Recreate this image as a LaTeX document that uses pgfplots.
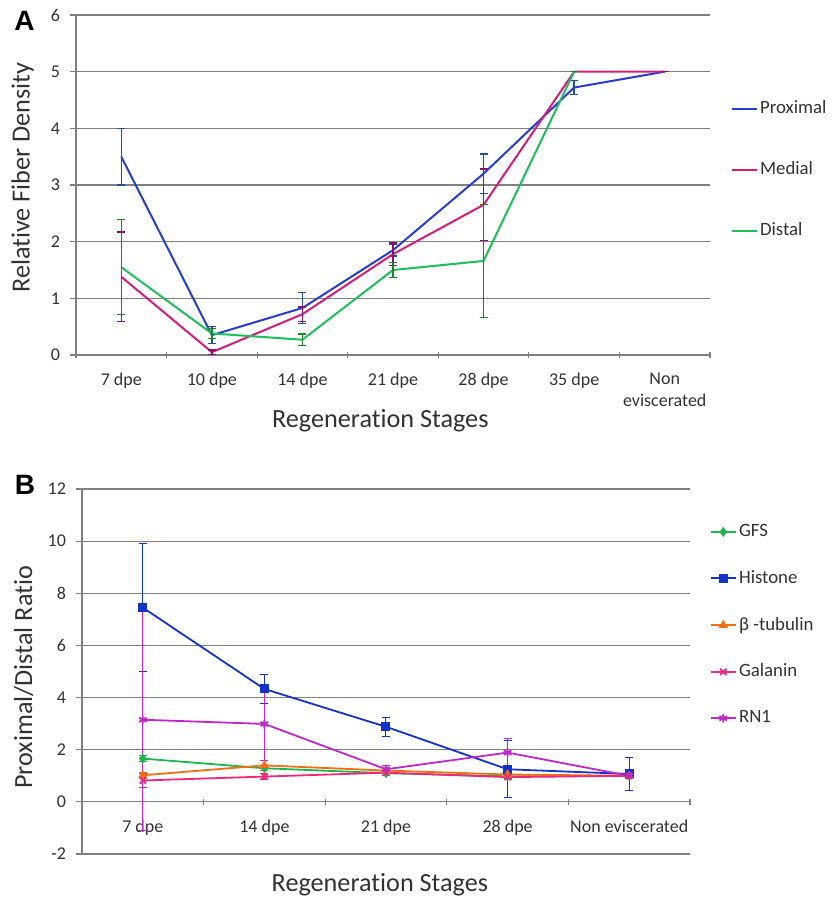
\documentclass[border=0pt]{standalone}
\usepackage{fontspec}
\setmainfont[Ligatures=NoCommon]{Carlito}
\newfontfamily\panelfont{Liberation Sans}
\usepackage{pgfplots}
\pgfplotsset{compat=1.18}

\definecolor{gridgray}{RGB}{128,128,128}
\definecolor{textgray}{RGB}{50,50,50}
% panel A
\definecolor{proxcol}{RGB}{40,60,210}
\definecolor{proxerr}{RGB}{30,80,160}
\definecolor{medcol}{RGB}{210,30,120}
\definecolor{mederr}{RGB}{130,20,120}
\definecolor{distcol}{RGB}{30,190,90}
\definecolor{disterr}{RGB}{30,130,40}
% panel B
\definecolor{gfscol}{RGB}{30,180,80}
\definecolor{histcol}{RGB}{20,50,200}
\definecolor{tubcol}{RGB}{240,110,20}
\definecolor{galcol}{RGB}{240,40,120}
\definecolor{rncol}{RGB}{190,40,200}

\newcommand\labfont{\fontsize{13.1}{15.5}\selectfont}

\pgfplotsset{
  excel/.style={
    scale only axis,
    clip=false,
    axis y line=left,
    tick align=outside,
    major tick length=3pt,
    tick style={draw=gridgray, line width=0.6pt},
    ymajorgrids,
    grid style={draw=gridgray, line width=0.6pt},
    tick label style={font=\fontsize{9}{11}\selectfont, text=textgray},
    yticklabel style={xshift=-1.5pt},
    xticklabel style={align=center, yshift=-4pt},
    /pgf/number format/assume math mode=true,
    x tick label as interval,
    legend style={draw=none, fill=none, font=\fontsize{9.4}{11}\selectfont,
      text=textgray, anchor=north west, cells={anchor=west}, inner sep=0pt,
      nodes={inner sep=1.2pt}},
    legend image code/.code={\draw[mark repeat=2,mark phase=2,##1]
      plot coordinates {(0pt,0pt) (6.25pt,0pt) (12.5pt,0pt)};},
  },
  fixlines/.style={
    axis line style={draw=gridgray, line width=0.6pt},
    x axis line style={-}, y axis line style={-},
  },
  errA/.style={error bars/.cd, y dir=both, y explicit,
    error bar style={#1, line width=0.7pt},
    error mark options={#1, rotate=90, line width=0.7pt, mark size=2pt}},
  errB/.style={error bars/.cd, y dir=both, y explicit,
    error bar style={#1, line width=0.5pt},
    error mark options={#1, rotate=90, line width=0.5pt, mark size=2pt}},
}

\begin{document}
\begin{tikzpicture}
\useasboundingbox (0,0) rectangle (417.5pt,-449.5pt);

\node[font=\panelfont\bfseries\fontsize{14}{16}\selectfont] at (12.25pt,-10.25pt) {A};
\node[font=\panelfont\bfseries\fontsize{14}{16}\selectfont] at (12.5pt,-242.5pt) {B};

\begin{axis}[excel,
  at={(38pt,-177.5pt)}, anchor=south west,
  width=317pt, height=170pt,
  axis x line=bottom,
  fixlines,
  xmin=-0.5, xmax=6.5, ymin=0, ymax=6,
  ytick={0,1,...,6},
  xtick={-0.5,0.5,...,6.5},
  xticklabels={7 dpe,10 dpe,14 dpe,21 dpe,28 dpe,35 dpe,{Non\\eviscerated}},
  ylabel={Relative Fiber Density},
  xlabel={Regeneration Stages},
  every axis y label/.style={at={(axis description cs:-0.084,0.522)}, rotate=90, anchor=center, font=\labfont, text=textgray},
  every axis x label/.style={at={(axis description cs:0.48,-0.194)}, anchor=center, font=\labfont, text=textgray},
  legend style={at={(axis description cs:1.032,0.756)}, row sep=20pt},
]
\addplot[proxcol, line width=1pt, errA=proxerr] coordinates {
  (0,3.5) +- (0,0.5)
  (1,0.35) +- (0,0.15)
  (2,0.83) +- (0,0.27)
  (3,1.85) +- (0,0.1)
  (4,3.2) +- (0,0.35)
  (5,4.72) +- (0,0.12)
  (6,5.0) +- (0,0)
};
\addlegendentry{Proximal}
\addplot[medcol, line width=1pt, errA=mederr] coordinates {
  (0,1.38) +- (0,0.79)
  (1,0.05) +- (0,0.04)
  (2,0.72) +- (0,0.13)
  (3,1.78) +- (0,0.2)
  (4,2.65) +- (0,0.63)
  (5,5.0) +- (0,0)
  (6,5.0) +- (0,0)
};
\addlegendentry{Medial}
\addplot[distcol, line width=1pt, errA=disterr] coordinates {
  (0,1.55) +- (0,0.84)
  (1,0.38) +- (0,0.09)
  (2,0.27) +- (0,0.1)
  (3,1.5) +- (0,0.13)
  (4,1.66) +- (0,1.0)
  (5,5.0) +- (0,0)
};
\addlegendentry{Distal}
\end{axis}

\begin{axis}[excel,
  at={(41pt,-427pt)}, anchor=south west,
  width=304pt, height=182.5pt,
  axis x line=middle,
  fixlines,
  hide obscured x ticks=false,
  hide obscured y ticks=false,
  xmin=-0.5, xmax=4.5, ymin=-2, ymax=12,
  ytick={-2,0,...,12},
  xtick={-0.5,0.5,...,4.5},
  xticklabels={7 dpe,14 dpe,21 dpe,28 dpe,Non eviscerated},
  ylabel={Proximal/Distal Ratio},
  xlabel={Regeneration Stages},
  every axis y label/.style={at={(axis description cs:-0.096,0.484)}, rotate=90, anchor=center, font=\labfont, text=textgray},
  every axis x label/.style={at={(axis description cs:0.49,-0.085)}, anchor=center, font=\labfont, text=textgray},
  legend style={at={(axis description cs:1.032,0.911)}, row sep=13pt},
]
\addplot[gfscol, line width=0.9pt, mark=diamond*, mark size=1.8pt, errB=gfscol] coordinates {
  (0,1.66) +- (0,0.1)
  (1,1.29) +- (0,0.1)
  (2,1.1) +- (0,0.1)
  (3,0.98) +- (0,0.1)
  (4,1.0) +- (0,0.05)
};
\addlegendentry{GFS}
\addplot[histcol, line width=0.9pt, mark=square*, mark size=1.8pt, errB=histcol] coordinates {
  (0,7.45) +- (0,2.45)
  (1,4.33) +- (0,0.57)
  (2,2.88) +- (0,0.37)
  (3,1.25) +- (0,1.1)
  (4,1.07) +- (0,0.62)
};
\addlegendentry{Histone}
\addplot[tubcol, line width=0.9pt, mark=triangle*, mark size=1.8pt, errB=tubcol] coordinates {
  (0,1.02) +- (0,0.1)
  (1,1.4) +- (0,0.2)
  (2,1.2) +- (0,0.2)
  (3,1.05) +- (0,0.1)
  (4,1.0) +- (0,0.05)
};
\addlegendentry{β -tubulin}
\addplot[galcol, line width=0.9pt, mark=x, mark size=2.2pt, errB=galcol] coordinates {
  (0,0.82) +- (0,0.25)
  (1,0.97) +- (0,0.1)
  (2,1.12) +- (0,0.1)
  (3,0.95) +- (0,0.1)
  (4,1.0) +- (0,0.1)
};
\addlegendentry{Galanin}
\addplot[rncol, line width=0.9pt, mark=asterisk, mark size=2.2pt, errB=rncol] coordinates {
  (0,3.15) +- (0,4.25)
  (1,2.99) +- (0,1.4)
  (2,1.25) +- (0,0.15)
  (3,1.89) +- (0,0.55)
  (4,1.0) +- (0,0.1)
};
\addlegendentry{RN1}
\end{axis}
\end{tikzpicture}
\end{document}
